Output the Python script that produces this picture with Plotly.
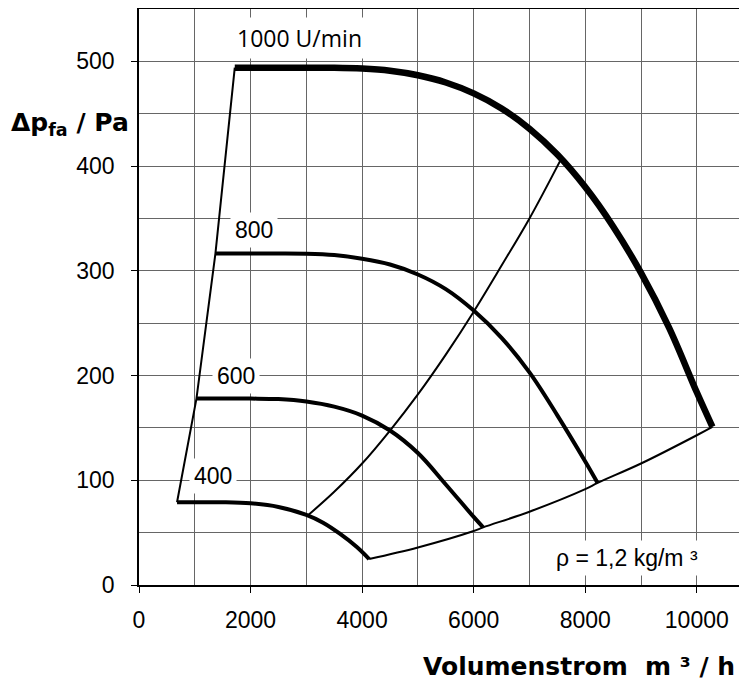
import plotly.graph_objects as go

# ---- axis ticks ----
x_tick_vals = [0, 2000, 4000, 6000, 8000, 10000]
x_tick_text = ["0", "2000", "4000", "6000", "8000", "10000"]
y_tick_vals = [0, 100, 200, 300, 400, 500]
y_tick_text = ["0", "100", "200", "300", "400", "500"]

# ---- fan curves: Volumenstrom (m³/h) vs Δp_fa (Pa) ----
n1000_x = [1717, 2500, 3000, 3500, 4000, 4500, 5000, 5500, 6000, 6500, 7000, 7500, 8000, 8500, 9000, 9500, 10000, 10280]
n1000_y = [494, 494, 494, 493.9, 493.1, 491, 486.7, 479.8, 469.4, 455, 435.7, 411, 380, 342.4, 298, 246, 184, 151]

n800_x = [1370, 2000, 2500, 3000, 3500, 4000, 4500, 5000, 5500, 6000, 6500, 7000, 7500, 8000, 8222]
n800_y = [316.5, 316.5, 316.5, 316.3, 315, 311.5, 306, 296.5, 282.5, 262, 236, 203, 162, 118, 97.5]

n600_x = [1030, 2000, 2500, 3000, 3500, 4000, 4500, 5000, 5500, 6000, 6170]
n600_y = [178, 178, 177.5, 175.2, 170.3, 161.8, 147.5, 126, 96, 65, 55]

n400_x = [682, 1500, 2000, 2500, 3000, 3300, 3600, 3900, 4126]
n400_y = [79, 79, 78, 74.5, 67, 59.5, 49, 36.5, 24.8]

# boundary / system lines
left_x = [682, 1030, 1370, 1717]
left_y = [79, 178, 316.5, 494]

bottom_x = [4126, 5000, 6000, 6170, 7000, 8000, 8222, 9000, 10000, 10280]
bottom_y = [24.8, 35.8, 51.5, 55, 70, 91.5, 97.5, 116, 143, 151]

mid_x = [3040, 3500, 4000, 4500, 5000, 5500, 6000, 6500, 7000, 7550]
mid_y = [67, 89, 116, 147.5, 182, 220, 261, 305, 350, 405]

# ---- labels ----
speed_labels = ["1000 U/min", "800", "600", "400"]
speed_label_x = [2872, 2053, 1739, 1321]
speed_label_y = [522, 339, 200, 104]
rho_label = "ρ = 1,2 kg/m ³"

FONT = "Liberation Sans, Arial, sans-serif"

fig = go.Figure()

def add_line(x, y, w, shape="spline"):
    fig.add_trace(go.Scatter(
        x=x, y=y, mode="lines",
        line=dict(color="black", width=w, shape=shape, smoothing=1.0),
        hoverinfo="skip", showlegend=False,
    ))

add_line(left_x, left_y, 2, shape="linear")
add_line(bottom_x, bottom_y, 2)
add_line(mid_x, mid_y, 2)
add_line(n400_x, n400_y, 4)
add_line(n600_x, n600_y, 4)
add_line(n800_x, n800_y, 4)
add_line(n1000_x, n1000_y, 6.5)

annotations = []
for i, (t, x, y) in enumerate(zip(speed_labels, speed_label_x, speed_label_y)):
    annotations.append(dict(
        x=x, y=y, xref="x", yref="y", text=t, showarrow=False,
        font=dict(family="Open Sans, sans-serif" if i == 0 else FONT, size=23, color="black"),
        bgcolor="white", borderpad=4, xanchor="center", yanchor="middle",
    ))
annotations.append(dict(
    x=8752, y=26, xref="x", yref="y", text=rho_label, showarrow=False,
    font=dict(family=FONT, size=23, color="black"),
    bgcolor="white", borderpad=4, xanchor="center", yanchor="middle",
))
# axis titles
annotations.append(dict(
    x=-0.2135, y=0.80, xref="paper", yref="paper",
    text="<b>Δp<sub>fa</sub> / Pa</b>", showarrow=False,
    font=dict(family="DejaVu Sans, sans-serif", size=25, color="black"),
    xanchor="left", yanchor="middle",
))
annotations.append(dict(
    x=0.983, y=-0.142, xref="paper", yref="paper",
    text="<b>Volumenstrom\u00a0\u00a0m\u00a0³\u00a0/\u00a0h</b>", showarrow=False,
    font=dict(family="DejaVu Sans, sans-serif", size=25, color="black"),
    xanchor="right", yanchor="middle",
))

grid_color = "#666666"
fig.update_layout(
    width=739, height=673,
    margin=dict(l=131, r=0, t=1, b=96, autoexpand=False),
    paper_bgcolor="white", plot_bgcolor="white",
    showlegend=False,
    annotations=annotations,
    xaxis=dict(
        range=[0, 10900], tickmode="array", tickvals=x_tick_vals, ticktext=x_tick_text,
        automargin=False,
        showgrid=True, gridcolor=grid_color, gridwidth=1,
        minor=dict(dtick=1000, tick0=0, showgrid=True, gridcolor=grid_color, gridwidth=1),
        ticks="outside", ticklen=6, tickcolor="black", tickwidth=1,
        ticklabelstandoff=8,
        showline=True, linecolor="black", linewidth=1.5, mirror=True,
        zeroline=False,
        tickfont=dict(family=FONT, size=23, color="black"),
    ),
    yaxis=dict(
        range=[0, 550], tickmode="array", tickvals=y_tick_vals, ticktext=y_tick_text,
        automargin=False,
        showgrid=True, gridcolor=grid_color, gridwidth=1,
        minor=dict(dtick=50, tick0=0, showgrid=True, gridcolor=grid_color, gridwidth=1),
        ticks="outside", ticklen=6, tickcolor="black", tickwidth=1,
        ticklabelstandoff=12,
        showline=True, linecolor="black", linewidth=1.5, mirror=False,
        zeroline=False,
        tickfont=dict(family=FONT, size=23, color="black"),
    ),
)

fig.write_html("out.html")
